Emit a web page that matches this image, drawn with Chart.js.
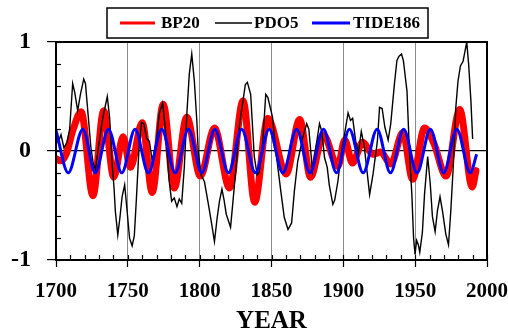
<!DOCTYPE html>
<html>
<head>
<meta charset="utf-8">
<script src="https://cdn.jsdelivr.net/npm/chart.js@4.4.1/dist/chart.umd.min.js"></script>
<style>
  html, body { margin: 0; padding: 0; background: #ffffff; }
  canvas { display: block; }
</style>
</head>
<body>
<canvas id="c" width="508" height="332"></canvas>
<script>
// ---- Data ----
const xTickValues = [1700, 1750, 1800, 1850, 1900, 1950, 2000];
const yTickValues = [-1, 0, 1];

const bpYears = [1700, 1703, 1707, 1712, 1717.5, 1725.7, 1733.2, 1740.2, 1746.7, 1751.8, 1760, 1767, 1774.6, 1782.3, 1791, 1800.5, 1810.3, 1820.8, 1830.2, 1838.3, 1847.4, 1860.2, 1869.6, 1877.2, 1886, 1896.2, 1901, 1906.3, 1913.5, 1920.5, 1926, 1933, 1941.5, 1948.2, 1956.5, 1963, 1971.5, 1981, 1989.7, 1992.3];
const bpValues = [-0.07, -0.09, -0.03, 0.2, 0.36, -0.41, 0.37, -0.24, 0.13, -0.15, 0.26, -0.38, 0.43, -0.34, 0.31, -0.23, 0.21, -0.34, 0.46, -0.47, 0.3, -0.21, 0.29, -0.24, 0.15, -0.14, 0.1, -0.11, 0.08, -0.03, -0.01, -0.12, 0.17, -0.26, 0.21, 0.07, -0.23, 0.38, -0.33, -0.18];

const pdoYears = [1700, 1701.5, 1703.5, 1705.5, 1707.7, 1709.5, 1711.6, 1713, 1715.1, 1717, 1719.3, 1720.5, 1722.5, 1724.3, 1726, 1727.5, 1729.5, 1732.5, 1735.7, 1737.3, 1739, 1740.4, 1741.3, 1743, 1744.5, 1746, 1747.8, 1749.7, 1751.2, 1753, 1754.5, 1756, 1757.8, 1759.5, 1761.2, 1763, 1765, 1767, 1768.5, 1770, 1771.8, 1774.2, 1776.5, 1778.8, 1780.5, 1782.3, 1784.2, 1785.8, 1787.5, 1789.3, 1791.2, 1792.8, 1794.5, 1796.3, 1798, 1799, 1801, 1803.3, 1805.7, 1808, 1810.3, 1812.2, 1813.8, 1815.5, 1817, 1818.5, 1820, 1821.5, 1823.2, 1825.5, 1827.8, 1829.5, 1831.8, 1833.2, 1835.5, 1838, 1840, 1841.4, 1843.5, 1846, 1847.5, 1850.7, 1853, 1856.5, 1858.9, 1861.5, 1864, 1865.9, 1868.2, 1871.7, 1874.5, 1876, 1878.5, 1880.5, 1883.4, 1885, 1886.9, 1888.8, 1890.2, 1892.7, 1894, 1896.2, 1898.5, 1900.4, 1903.3, 1905, 1906.5, 1908.6, 1910.5, 1912.5, 1914.5, 1916.7, 1918.3, 1920.7, 1923.7, 1925.2, 1927, 1928.9, 1931.2, 1933, 1935.6, 1937.3, 1938.8, 1940.5, 1941.8, 1944.3, 1946, 1947.7, 1948.9, 1949.9, 1951, 1952.2, 1953.2, 1955, 1956.5, 1958.7, 1960.5, 1962, 1963.9, 1965.5, 1967.3, 1969, 1971.3, 1973.2, 1974.8, 1976.9, 1978.3, 1979.8, 1981.5, 1983.3, 1984.9, 1985.9, 1987.2, 1988.8, 1990];
const pdoValues = [0.15, 0.08, 0.15, 0.03, 0.08, 0.2, 0.62, 0.54, 0.37, 0.52, 0.66, 0.62, 0.31, 0.03, -0.12, -0.17, 0.03, 0.3, 0.5, 0.31, -0.1, -0.34, -0.55, -0.77, -0.61, -0.42, -0.31, -0.58, -0.8, -0.87, -0.78, -0.43, 0.03, 0.26, 0.25, 0.12, 0.09, -0.09, 0.0, 0.1, 0.34, 0.44, 0.15, -0.28, -0.46, -0.43, -0.51, -0.44, -0.48, -0.15, 0.37, 0.71, 0.89, 0.64, 0.28, 0.0, -0.22, -0.28, -0.46, -0.64, -0.83, -0.61, -0.46, -0.35, -0.45, -0.58, -0.64, -0.7, -0.46, -0.12, 0.25, 0.4, 0.61, 0.63, 0.52, -0.05, -0.22, -0.2, 0.0, 0.52, 0.49, 0.31, 0.0, -0.37, -0.61, -0.72, -0.66, -0.37, -0.1, 0.12, 0.25, 0.2, -0.18, 0.0, 0.25, 0.18, -0.06, -0.15, -0.31, -0.49, -0.45, -0.28, -0.03, 0.12, 0.35, 0.28, 0.3, 0.09, -0.02, 0.18, 0.05, -0.21, -0.4, -0.21, 0.09, 0.4, 0.39, 0.22, 0.1, 0.25, 0.62, 0.83, 0.87, 0.89, 0.83, 0.55, 0.0, -0.4, -0.8, -0.95, -0.82, -0.86, -0.93, -0.75, -0.4, -0.05, -0.3, -0.6, -0.74, -0.55, -0.42, -0.55, -0.76, -0.86, -0.55, -0.05, 0.4, 0.64, 0.78, 0.82, 0.93, 1.0, 0.8, 0.46, 0.11];

const tideYears = [1700, 1708.5, 1718.7, 1727.3, 1736.5, 1745.8, 1755, 1764.3, 1773.6, 1783, 1792.2, 1801.5, 1810.6, 1820, 1829.2, 1838.8, 1848.4, 1857.9, 1867.5, 1876.8, 1886.2, 1895.2, 1904.2, 1913.8, 1923.5, 1932.8, 1942, 1951.3, 1960.6, 1969.8, 1979, 1988.3, 1992.8];
const tideValues = [0.19, -0.2, 0.2, -0.2, 0.2, -0.2, 0.2, -0.2, 0.2, -0.2, 0.2, -0.2, 0.2, -0.2, 0.2, -0.2, 0.2, -0.2, 0.2, -0.2, 0.2, -0.2, 0.2, -0.2, 0.2, -0.2, 0.2, -0.2, 0.2, -0.2, 0.2, -0.2, -0.03];

const seriesLabels = ['BP20', 'PDO5', 'TIDE186'];

// ---- build ----
const toPts = (xs, ys) => xs.map((x, i) => ({ x: x, y: ys[i] }));
const SERIF = '"Liberation Serif", "Times New Roman", serif';

const framePlugin = {
  id: 'frame',
  beforeDatasetsDraw(chart) {
    const { ctx, chartArea: a, scales } = chart;
    const xs = scales.x, ys = scales.y;
    ctx.save();
    ctx.strokeStyle = '#000';
    ctx.lineWidth = 1.2;
    for (let v = 1700; v <= 2000; v += 10) {
      const px = Math.round(xs.getPixelForValue(v)) + 0.5;
      ctx.beginPath(); ctx.moveTo(px, a.bottom); ctx.lineTo(px, a.bottom - 5); ctx.stroke();
    }
    for (let k = -5; k <= 5; k++) {
      const py = Math.round(ys.getPixelForValue(k * 0.2)) + 0.5;
      ctx.beginPath(); ctx.moveTo(a.left, py); ctx.lineTo(a.left + 5, py); ctx.stroke();
    }
    ctx.restore();
  },
  afterDraw(chart) {
    const { ctx, chartArea: a } = chart;
    ctx.save();
    ctx.strokeStyle = '#000';
    ctx.lineWidth = 2;
    ctx.strokeRect(a.left, a.top, a.right - a.left, a.bottom - a.top);
    const bx = 107, by = 8, bw = 321, bh = 30;
    ctx.fillStyle = '#fff';
    ctx.fillRect(bx, by, bw, bh);
    ctx.lineWidth = 1.5;
    ctx.strokeRect(bx, by, bw, bh);
    const items = [
      { x1: 120, x2: 155, tx: 161, lw: 3 },
      { x1: 215, x2: 252, tx: 254, lw: 1.3 },
      { x1: 312, x2: 350, tx: 353, lw: 3 }
    ];
    ctx.font = 'bold 17px ' + SERIF;
    ctx.textBaseline = 'middle';
    ctx.textAlign = 'left';
    chart.data.datasets.forEach((ds, i) => {
      const it = items[i];
      ctx.strokeStyle = ds.borderColor;
      ctx.lineWidth = it.lw;
      ctx.beginPath(); ctx.moveTo(it.x1, 23); ctx.lineTo(it.x2, 23); ctx.stroke();
      ctx.fillStyle = '#000';
      ctx.fillText(ds.label, it.tx, 24);
    });
    ctx.restore();
  }
};

new Chart(document.getElementById('c'), {
  type: 'line',
  data: {
    datasets: [
      { label: seriesLabels[0], data: toPts(bpYears, bpValues), borderColor: '#ff0000', borderWidth: 7, cubicInterpolationMode: 'monotone', pointRadius: 0, order: 3, borderCapStyle: 'round' },
      { label: seriesLabels[1], data: toPts(pdoYears, pdoValues), borderColor: '#000000', borderWidth: 1.4, tension: 0, pointRadius: 0, order: 2 },
      { label: seriesLabels[2], data: toPts(tideYears, tideValues), borderColor: '#0000ff', borderWidth: 3, cubicInterpolationMode: 'monotone', pointRadius: 0, order: 1 }
    ]
  },
  options: {
    responsive: false,
    devicePixelRatio: 1,
    animation: false,
    layout: { padding: { top: 42, right: 2, left: 0, bottom: 0 } },
    plugins: { legend: { display: false }, tooltip: { enabled: false } },
    scales: {
      x: {
        type: 'linear', min: 1700, max: 2000,
        afterBuildTicks: s => { s.ticks = xTickValues.map(v => ({ value: v })); },
        afterFit: s => { s.height = 72; s.paddingRight = 21; s.paddingLeft = 0; },
        ticks: { autoSkip: false, maxRotation: 0, color: '#000', padding: 12, font: { family: SERIF, size: 21, weight: 'bold' }, callback: v => String(v) },
        grid: {
          color: c => (c.tick && (c.tick.value === 1700 || c.tick.value === 2000)) ? 'rgba(0,0,0,0)' : '#8a8a8a',
          lineWidth: 1, drawTicks: true, tickLength: 7, tickColor: '#000', tickWidth: 1.2
        },
        border: { display: true, color: '#000', width: 2 },
        title: { display: true, text: 'YEAR', color: '#000', font: { family: SERIF, size: 25, weight: 'bold', lineHeight: 0.85 }, padding: { top: 0, bottom: 0 } }
      },
      y: {
        type: 'linear', min: -1, max: 1,
        afterBuildTicks: s => { s.ticks = yTickValues.map(v => ({ value: v })); },
        afterFit: s => { s.width = 56; },
        ticks: { color: '#000', padding: 16, font: { family: SERIF, size: 24, weight: 'bold' }, callback: v => String(v) },
        grid: {
          color: c => (c.tick && c.tick.value === 0) ? '#000' : 'rgba(0,0,0,0)',
          lineWidth: 1.2, drawTicks: true, tickLength: 9, tickColor: '#000', tickWidth: 1.2
        },
        border: { display: true, color: '#000', width: 2 }
      }
    }
  },
  plugins: [framePlugin]
});
</script>
</body>
</html>
